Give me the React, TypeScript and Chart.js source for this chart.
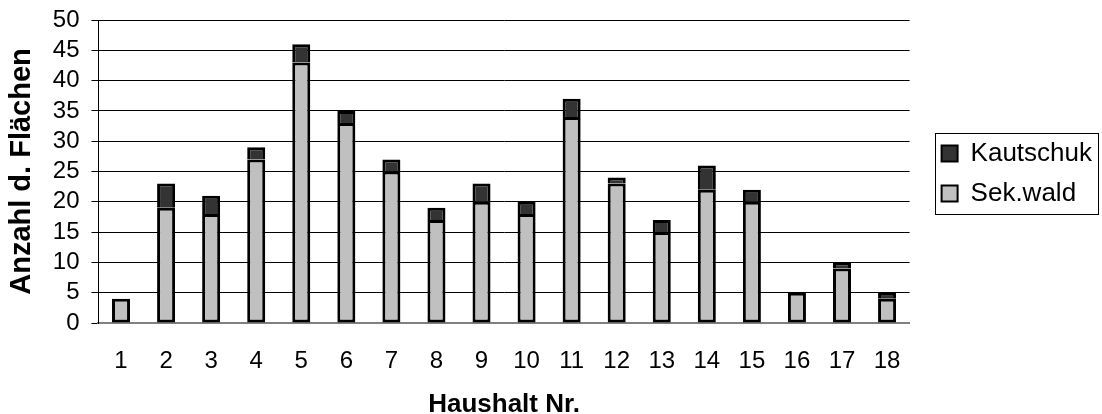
import React, { useEffect, useRef } from "react";
import { Chart, registerables } from "chart.js";

Chart.register(...registerables);

const categories = ["1","2","3","4","5","6","7","8","9","10","11","12","13","14","15","16","17","18"];
const sekWald = [4, 19, 18, 27, 43, 33, 25, 17, 20, 18, 34, 23, 15, 22, 20, 5, 9, 4];
const kautschuk = [0, 4, 3, 2, 3, 2, 2, 2, 3, 2, 3, 1, 2, 4, 2, 0, 1, 1];
const yMin = 0;
const yMax = 50;
const yStep = 5;

const FONT = "'Liberation Sans', Arial, Helvetica, sans-serif";

const legendPlacement = {
  id: "legendPlacement",
  afterLayout(chart: any) {
    const lg = chart.legend;
    if (!lg) return;
    lg.top = chart.chartArea.top + 2;
    lg.bottom = chart.chartArea.bottom + 2;
    lg.height = lg.bottom - lg.top;
  },
  afterDraw(chart: any) {
    const lg = chart.legend;
    if (!lg || !lg.legendHitBoxes || !lg.legendHitBoxes.length) return;
    const hb = lg.legendHitBoxes;
    const first = hb[0];
    const last = hb[hb.length - 1];
    const ctx = chart.ctx;
    const x0 = first.left - 7;
    const y0 = first.top - 8;
    const x1 = chart.width - 4;
    const y1 = last.top + last.height + 7;
    ctx.save();
    ctx.strokeStyle = "#000";
    ctx.lineWidth = 1;
    ctx.strokeRect(Math.round(x0) + 0.5, Math.round(y0) + 0.5, Math.round(x1 - x0), Math.round(y1 - y0));
    ctx.restore();
  },
};

export default function App() {
  const ref = useRef<HTMLCanvasElement | null>(null);
  useEffect(() => {
    if (!ref.current) return;
    const chart = new Chart(ref.current, {
      type: "bar",
      data: {
        labels: categories,
        datasets: [
          {
            label: "Sek.wald",
            data: sekWald,
            backgroundColor: "#C0C0C0",
            borderColor: "#000000",
            borderWidth: 3,
            borderSkipped: false,
            barPercentage: 0.4,
            categoryPercentage: 1,
          },
          {
            label: "Kautschuk",
            data: kautschuk,
            backgroundColor: "#333333",
            borderColor: "#000000",
            borderWidth: 3,
            borderSkipped: "start",
            barPercentage: 0.4,
            categoryPercentage: 1,
          },
        ],
      },
      options: {
        animation: false,
        responsive: true,
        maintainAspectRatio: false,
        layout: { padding: { top: 20, right: 0, bottom: -6, left: 0 } },
        plugins: {
          tooltip: { enabled: false },
          legend: {
            position: "right",
            reverse: true,
            labels: {
              boxWidth: 16,
              boxHeight: 16,
              padding: 14,
              color: "#000",
              font: { family: FONT, size: 26 },
              generateLabels: (c: any) =>
                c.data.datasets.map((ds: any, i: number) => ({
                  text: ds.label,
                  fillStyle: ds.backgroundColor,
                  strokeStyle: "#000",
                  lineWidth: 2,
                  hidden: false,
                  datasetIndex: i,
                  fontColor: "#000",
                })),
            },
          },
        },
        scales: {
          x: {
            stacked: true,
            grid: { display: false, drawTicks: false },
            border: { display: true, color: "#808080", width: 2 },
            ticks: {
              color: "#000",
              padding: 24,
              maxRotation: 0,
              autoSkip: false,
              font: { family: FONT, size: 24 },
            },
            title: {
              display: true,
              text: "Haushalt Nr.",
              color: "#000",
              font: { family: FONT, size: 26, weight: "bold" },
              padding: { top: -11, bottom: 0 },
            },
          },
          y: {
            stacked: true,
            min: yMin,
            max: yMax,
            ticks: {
              stepSize: yStep,
              autoSkip: false,
              color: "#000",
              padding: 12,
              font: { family: FONT, size: 24, lineHeight: 0.6 },
            },
            grid: { color: "#000", lineWidth: 1, tickLength: 7, drawTicks: true },
            border: { display: true, color: "#000", width: 1 },
            title: {
              display: true,
              text: "Anzahl d. Flächen",
              color: "#000",
              font: { family: FONT, size: 29, weight: "bold" },
              padding: { top: 5, bottom: 1 },
            },
          },
          yr: {
            position: "right",
            display: true,
            grid: { display: false, drawTicks: false },
            border: { display: false },
            ticks: { display: false },
            afterFit: (s: any) => {
              s.width = 18;
            },
          },
        },
      },
      plugins: [legendPlacement],
    });
    return () => chart.destroy();
  }, []);
  return (
    <div style={{ position: "absolute", left: 0, top: 0, width: 1102, height: 414 }}>
      <canvas ref={ref} />
    </div>
  );
}
